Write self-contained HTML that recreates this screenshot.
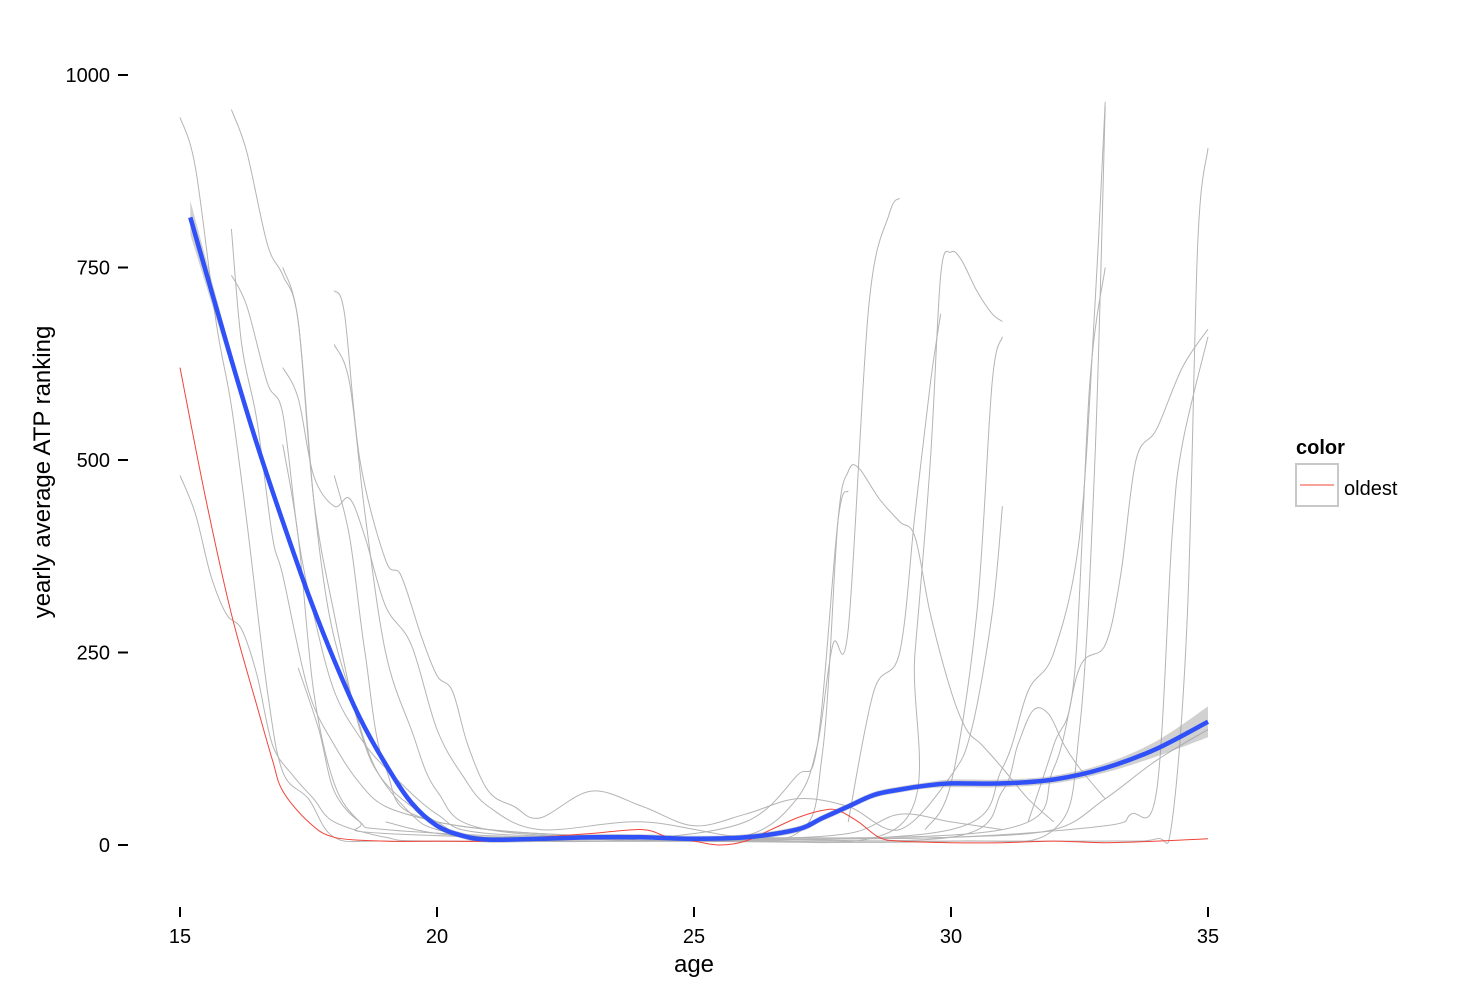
<!DOCTYPE html>
<html><head><meta charset="utf-8"><style>
body{margin:0;background:#fff;}
svg{display:block;font-family:"Liberation Sans",Arial,sans-serif;}
</style></head><body>
<svg id="chart" width="1479" height="1000" viewBox="0 0 1479 1000" xmlns="http://www.w3.org/2000/svg">
<g id="grey"></g>
<g id="band"></g>
<g id="red"></g>
<g id="blue"></g>
<g id="yaxis"></g>
<g id="xaxis"></g>
<text x="694" y="972" font-size="24" text-anchor="middle">age</text>
<text transform="translate(50,472) rotate(-90)" font-size="24" text-anchor="middle">yearly average ATP ranking</text>
<g>
<text x="1296" y="454" font-size="20" font-weight="bold">color</text>
<rect x="1296" y="464" width="42" height="42" fill="#fff" stroke="#c8c8c8" stroke-width="2"/>
<line x1="1300" y1="485" x2="1334" y2="485" stroke="#f0443a" stroke-width="1"/>
<text x="1344" y="495" font-size="20">oldest</text>
</g>
</svg>
<script>
const xTicks=[15,20,25,30,35];
const yTicks=[0,250,500,750,1000];
const greySeries=[
[[15,945],[15.3,880],[15.7,680],[16,570],[16.3,420],[16.7,200],[17,95],[17.5,60],[18,10],[19,5],[22,5],[25,5],[28,8],[30,10],[32,20],[33,60],[34,110],[35,150]],
[[15,480],[15.3,430],[15.6,350],[15.9,300],[16.2,280],[16.5,220],[16.8,130],[17.2,90],[17.6,60],[18,30],[19,10],[20,5],[25,5],[30,5],[33,5],[34,8],[34.3,30],[34.6,300],[34.8,780],[35,905]],
[[16,955],[16.3,900],[16.7,780],[17,740],[17.3,680],[17.6,450],[17.9,300],[18.3,200],[18.8,100],[19.5,40],[20,20],[21,10],[23,8],[25,10],[27,15],[27.5,120],[27.8,420],[28,485],[28.2,490],[28.6,450],[29,420],[29.3,400],[29.6,300],[30,200],[30.3,150],[30.6,130],[31,100],[31.5,60],[32,30]],
[[16,800],[16.2,650],[16.5,550],[16.8,400],[17,350],[17.5,200],[18,130],[18.5,80],[19,50],[20,30],[21,20],[22,15],[24,10],[26,12],[27,60],[27.4,130],[27.7,260],[28,280],[28.4,700],[28.8,820],[29,840]],
[[17,750],[17.3,680],[17.6,450],[18,300],[18.5,150],[19,80],[20,30],[21,10],[25,10],[29,25],[29.3,250],[29.6,500],[29.8,740],[30,770],[30.2,760],[30.5,720],[30.8,690],[31,680]],
[[18,720],[18.2,690],[18.5,500],[19,370],[19.3,350],[19.7,270],[20,220],[20.3,200],[20.6,130],[21,70],[21.5,50],[22,35],[23,70],[24,50],[25,25],[26,40],[27,60],[28,50],[29,20],[30,90],[30.4,150],[30.8,300],[31,440]],
[[16,740],[16.3,700],[16.7,600],[17,560],[17.3,400],[17.6,300],[18,200],[18.5,140],[19,100],[20,40],[21,15],[25,10],[30,10],[31,70],[31.3,130],[31.6,175],[31.9,170],[32.2,130],[32.5,100],[33,60]],
[[17,620],[17.3,580],[17.6,480],[18,440],[18.3,450],[18.6,400],[19,310],[19.5,260],[20,150],[20.5,90],[21,50],[22,20],[24,30],[26,10],[28,15],[29,40],[30,30],[31,20]],
[[17,520],[17.3,400],[17.6,200],[18,80],[18.5,30],[19,15],[25,5],[30,5],[32,20],[32.5,150],[32.8,500],[33,960]],
[[18,650],[18.3,600],[18.6,430],[19,250],[19.5,150],[20,70],[21,20],[25,10],[31,20],[32,100],[32.5,230],[33,260],[33.3,350],[33.6,500],[34,540],[34.5,620],[35,670]],
[[18,480],[18.3,400],[18.6,250],[19,100],[20,30],[25,8],[30,20],[31,100],[31.5,200],[32,250],[32.5,400],[32.8,700],[33,965]],
[[17.3,230],[17.7,150],[18,70],[18.5,30],[19,20],[22,10],[26,8],[30,10],[33,25],[33.5,40],[34,70],[34.3,400],[34.5,520],[35,660]],
[[29.5,20],[30,80],[30.5,300],[30.8,600],[31,660]],
[[31.5,30],[32,130],[32.4,220],[32.7,600],[33,750]],
[[19,30],[20,15],[22,5],[24,8],[26,30],[27,90],[27.4,130],[27.8,420],[28,460]],
[[28,30],[28.5,200],[29,250],[29.3,430],[29.6,600],[29.8,690]]
];
const redAges=[15,15.5,16,16.5,16.8,17,17.5,18,19,20,21,22,23,24,24.5,25,25.5,26,26.5,27,27.5,27.8,28.2,28.6,29,30,31,32,33,34,35];
const redVals=[620,450,300,180,110,70,30,10,5,5,5,10,15,20,10,5,0,5,20,35,45,45,30,10,5,3,3,5,3,5,8];
const smoothAges=[15.2,16,16.5,17,17.5,18,18.5,19,19.5,20,20.5,21,22,23,24,25,26,27,27.5,28,28.5,29,29.5,30,31,32,33,34,35];
const smoothVals=[815,630,520,420,325,240,165,105,55,25,12,7,8,10,10,8,10,20,35,50,65,72,77,80,80,85,100,125,160];
const smoothSE=[22,10,8,7,6,6,5,5,5,4,4,4,4,4,4,4,4,4,4,4,4,4,4,5,5,5,6,10,20];

const X=a=>180+(a-15)*(1028/20);
const Y=v=>845-v*0.77;
const NS="http://www.w3.org/2000/svg";
function pathD(pts){
  let d="M"+pts[0][0].toFixed(1)+","+pts[0][1].toFixed(1);
  for(let i=0;i<pts.length-1;i++){
    const p0=pts[Math.max(0,i-1)],p1=pts[i],p2=pts[i+1],p3=pts[Math.min(pts.length-1,i+2)];
    const c1=[p1[0]+(p2[0]-p0[0])/6,p1[1]+(p2[1]-p0[1])/6];
    const c2=[p2[0]-(p3[0]-p1[0])/6,p2[1]-(p3[1]-p1[1])/6];
    d+="C"+c1[0].toFixed(1)+","+c1[1].toFixed(1)+" "+c2[0].toFixed(1)+","+c2[1].toFixed(1)+" "+p2[0].toFixed(1)+","+p2[1].toFixed(1);
  }
  return d;
}
function mk(tag,attrs,parent){const e=document.createElementNS(NS,tag);for(const k in attrs)e.setAttribute(k,attrs[k]);parent.appendChild(e);return e;}
const gG=document.getElementById("grey");
greySeries.forEach((s,i)=>{
  const p=mk("path",{d:pathD(s.map(q=>[X(q[0]),Y(q[1])])),fill:"none",stroke:"#b4b4b4","stroke-width":1},gG);
  
  
});
const red=mk("path",{d:pathD(redAges.map((a,i)=>[X(a),Y(redVals[i])])),fill:"none",stroke:"#f0443a","stroke-width":1},document.getElementById("red"));


const up=smoothAges.map((a,i)=>[X(a),Y(smoothVals[i]+smoothSE[i])]);
const lo=smoothAges.map((a,i)=>[X(a),Y(smoothVals[i]-smoothSE[i])]).reverse();
const bandD=pathD(up)+"L"+pathD(lo).slice(1)+"Z";
const band=mk("path",{d:bandD,fill:"#999",opacity:0.45,stroke:"none"},document.getElementById("band"));


const blue=mk("path",{d:pathD(smoothAges.map((a,i)=>[X(a),Y(smoothVals[i])])),fill:"none",stroke:"#3050f8","stroke-width":4.5},document.getElementById("blue"));


const ya=document.getElementById("yaxis");
yTicks.forEach(t=>{
  const l=mk("line",{x1:118,x2:128,y1:Y(t),y2:Y(t),stroke:"#000","stroke-width":2},ya);
  
  
  const tx=mk("text",{x:110,y:Y(t)+7,"font-size":20,"text-anchor":"end"},ya);
  tx.textContent=t;
  
  
});
const xa=document.getElementById("xaxis");
xTicks.forEach(t=>{
  const l=mk("line",{x1:X(t),x2:X(t),y1:907,y2:917,stroke:"#000","stroke-width":2},xa);
  
  
  const tx=mk("text",{x:X(t),y:943,"font-size":20,"text-anchor":"middle"},xa);
  tx.textContent=t;
  
  
});
</script>
</body></html>
